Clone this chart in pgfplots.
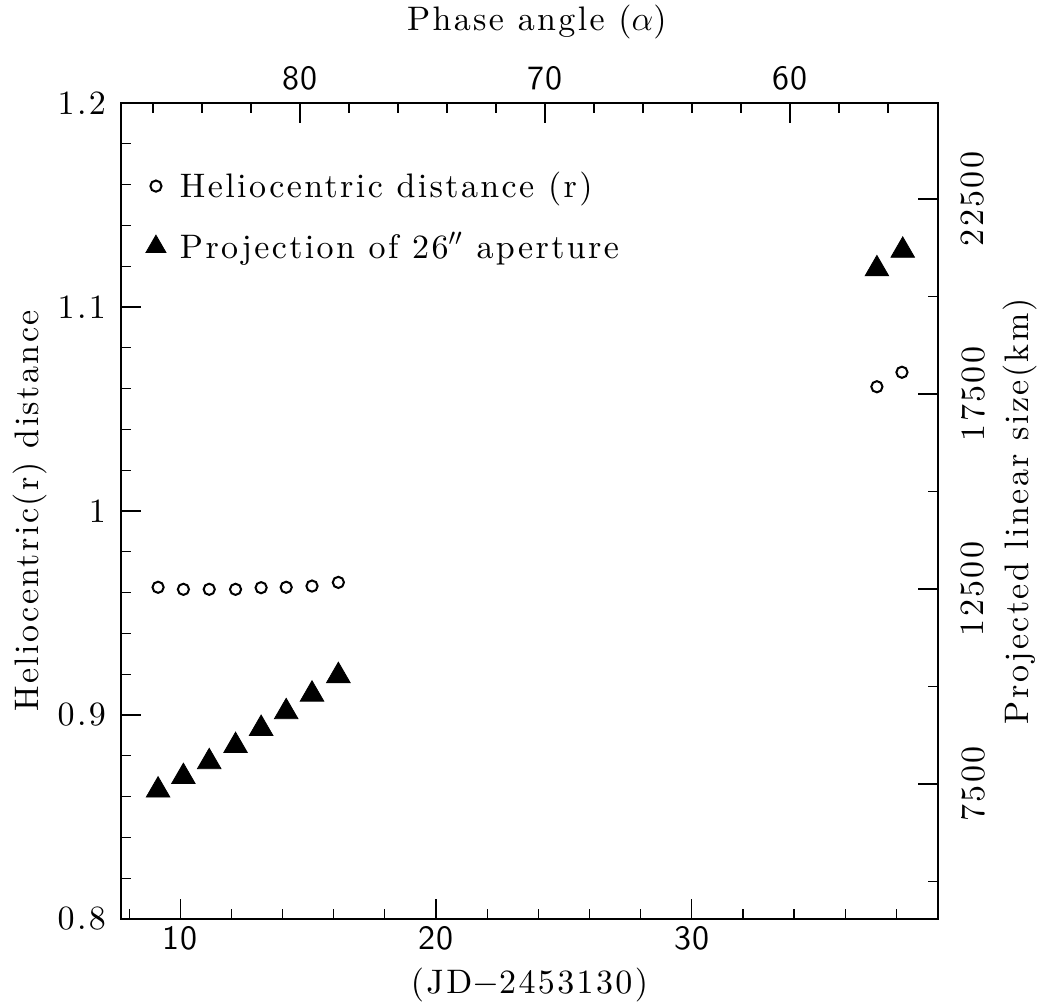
\documentclass[border=0pt]{standalone}
\usepackage{fontspec}
\setmainfont{lmroman10-regular.otf}[LetterSpace=7]
\setsansfont{lmsans10-regular.otf}[LetterSpace=4]
\usepackage{pgfplots}
\pgfplotsset{compat=1.18}
\begin{document}
\begin{tikzpicture}
\pgfplotsset{every axis/.append style={font=\fontsize{17}{20}\selectfont},
  /pgf/number format/assume math mode=true}
\begin{axis}[name=main, scale only axis, width=408.5pt, height=408pt,
  xmin=7.68, xmax=39.63, ymin=0.8, ymax=1.2,
  xtick={10,20,30}, minor xtick={8,12,14,16,18,22,24,26,28,32,34,36,38}, xtick pos=bottom,
  ytick={0.8,0.9,1,1.1,1.2}, minor ytick={0.82,0.84,0.86,0.88,0.92,0.94,0.96,0.98,1.02,1.04,1.06,1.08,1.12,1.14,1.16,1.18}, ytick pos=left,
  tick align=inside, major tick length=10pt, minor tick length=5pt,
  every tick/.style={black, line width=0.6pt},
  axis line style={line width=1pt},
  xticklabel style={font=\fontsize{17}{20}\sffamily},
  yticklabel style={/pgf/number format/fixed, xshift=-4pt},
  xlabel={(JD$-$2453130)}, ylabel={Heliocentric(r) distance},
  xlabel style={at={(axis description cs:0.5,-0.081)}, anchor=center},
  ylabel style={at={(axis description cs:-0.111,0.5)}, anchor=center},
  legend style={at={(axis description cs:0.030,0.921)}, anchor=north west, draw=none, fill=none, row sep=12pt, column sep=5pt, inner sep=0pt},
  legend cell align=left]
\addplot[only marks, mark=o, mark size=2.8pt, mark options={line width=1pt, black}] coordinates {
(9.13,0.9626)(10.12,0.9616)(11.13,0.9616)(12.16,0.9616)(13.16,0.9624)(14.14,0.9626)(15.15,0.9632)(16.18,0.9650)(37.24,1.0609)(38.22,1.0680)};
\addlegendentry{Heliocentric distance (r)}
\addplot[only marks, mark=triangle*, mark size=6.8pt, mark options={black, fill=black},
  legend image code/.code={\draw[black, fill=black, mark=triangle*, mark size=5.8pt] plot coordinates {(0.3cm,0cm)};}] coordinates {
(9.13,0.8631)(10.12,0.8697)(11.13,0.8770)(12.16,0.8849)(13.16,0.8933)(14.14,0.9015)(15.15,0.9101)(16.18,0.9192)(37.24,1.1186)(38.25,1.1277)};
\addlegendentry{Projection of 26$''$ aperture}
\end{axis}
\begin{axis}[at={(main.south west)}, anchor=south west, scale only axis, width=408.5pt, height=408pt,
  x dir=reverse, xmin=53.96, xmax=87.31, ymin=4040, ymax=24960,
  axis x line*=top, axis y line*=right,
  xtick={60,70,80}, minor xtick={56,58,62,64,66,68,72,74,76,78,82,84,86},
  ytick={7500,12500,17500,22500}, minor ytick={5000,10000,15000,20000},
  scaled y ticks=false,
  yticklabel style={/pgf/number format/fixed, /pgf/number format/1000 sep={}, xshift=8pt, rotate=90, anchor=north},
  xticklabel style={font=\fontsize{17}{20}\sffamily, yshift=3pt},
  tick align=inside, major tick length=10pt, minor tick length=5pt,
  every tick/.style={black, line width=0.6pt},
  axis line style={line width=1pt},
  xlabel={Phase angle ($\alpha$)}, ylabel={Projected linear size(km)},
  xlabel style={at={(axis description cs:0.509,1.099)}, anchor=center},
  ylabel style={at={(axis description cs:1.100,0.5)}, anchor=center}]
\end{axis}
\pgfresetboundingbox
\path[use as bounding box] ([shift={(-60.5pt,-44pt)}]main.south west) rectangle ([shift={(49.5pt,51.5pt)}]main.north east);
\end{tikzpicture}
\end{document}
